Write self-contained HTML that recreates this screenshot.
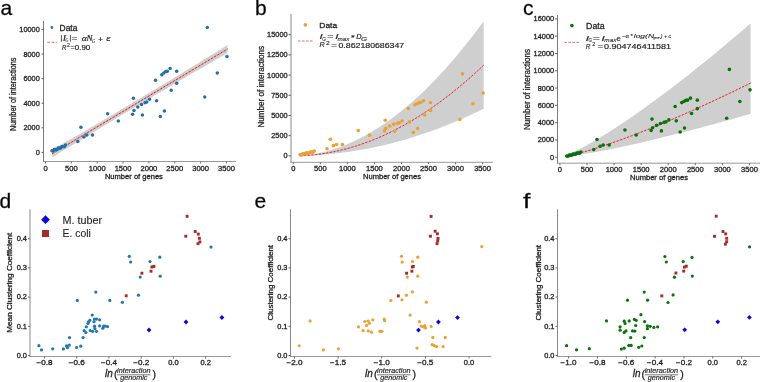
<!DOCTYPE html>
<html><head><meta charset="utf-8"><style>
html,body{margin:0;padding:0;background:#fff;width:760px;height:382px;overflow:hidden}
svg{display:block;font-family:"Liberation Sans", sans-serif}
#w{will-change:transform}
text{stroke:#262626;stroke-width:0.3px}
</style></head><body>
<div id="w"><svg width="760" height="382" viewBox="0 0 760 382">
<rect width="760" height="382" fill="#fff"/>
<text x="0.50" y="15.00" font-size="21" text-anchor="start" fill="#000">a</text>
<text x="255.00" y="15.00" font-size="21" text-anchor="start" fill="#000">b</text>
<text x="523.00" y="15.00" font-size="21" text-anchor="start" fill="#000">c</text>
<text x="-0.50" y="208.00" font-size="21" text-anchor="start" fill="#000">d</text>
<text x="254.50" y="208.00" font-size="21" text-anchor="start" fill="#000">e</text>
<text x="523.00" y="208.00" font-size="21" text-anchor="start" fill="#000" textLength="7.4" lengthAdjust="spacingAndGlyphs">f</text>
<polygon points="52.22,149.97 56.60,147.44 60.99,144.91 65.37,142.37 69.75,139.83 74.13,137.28 78.52,134.73 82.90,132.17 87.28,129.61 91.66,127.04 96.05,124.47 100.43,121.89 104.81,119.31 109.19,116.72 113.58,114.13 117.96,111.53 122.34,108.93 126.72,106.32 131.11,103.71 135.49,101.10 139.87,98.47 144.25,95.85 148.64,93.22 153.02,90.58 157.40,87.94 161.78,85.29 166.17,82.64 170.55,79.99 174.93,77.33 179.31,74.66 183.69,71.99 188.08,69.32 192.46,66.64 196.84,63.95 201.22,61.26 205.61,58.57 209.99,55.87 214.37,53.16 218.75,50.45 223.14,47.74 227.52,45.02 227.52,53.06 223.14,55.58 218.75,58.09 214.37,60.62 209.99,63.15 205.61,65.68 201.22,68.22 196.84,70.76 192.46,73.31 188.08,75.86 183.69,78.42 179.31,80.98 174.93,83.55 170.55,86.12 166.17,88.70 161.78,91.28 157.40,93.87 153.02,96.46 148.64,99.06 144.25,101.66 139.87,104.27 135.49,106.88 131.11,109.49 126.72,112.12 122.34,114.74 117.96,117.37 113.58,120.01 109.19,122.65 104.81,125.30 100.43,127.95 96.05,130.60 91.66,133.26 87.28,135.93 82.90,138.60 78.52,141.28 74.13,143.96 69.75,146.64 65.37,149.33 60.99,152.03 56.60,154.73 52.22,157.43" fill="#cfcfcf"/>
<line x1="52.22" y1="153.70" x2="227.52" y2="49.04" stroke="#e8a0a0" stroke-width="1.2"/>
<line x1="52.22" y1="153.70" x2="227.52" y2="49.04" stroke="#c82222" stroke-width="0.9" stroke-dasharray="2.1,1.6"/>
<circle cx="52.00" cy="150.80" r="1.75" fill="#1f70ae"/>
<circle cx="53.23" cy="150.93" r="1.75" fill="#1f70ae"/>
<circle cx="54.45" cy="149.35" r="1.75" fill="#1f70ae"/>
<circle cx="55.68" cy="149.38" r="1.75" fill="#1f70ae"/>
<circle cx="56.91" cy="149.51" r="1.75" fill="#1f70ae"/>
<circle cx="58.14" cy="147.94" r="1.75" fill="#1f70ae"/>
<circle cx="59.36" cy="147.96" r="1.75" fill="#1f70ae"/>
<circle cx="60.59" cy="148.09" r="1.75" fill="#1f70ae"/>
<circle cx="61.82" cy="146.52" r="1.75" fill="#1f70ae"/>
<circle cx="63.05" cy="146.55" r="1.75" fill="#1f70ae"/>
<circle cx="64.27" cy="146.67" r="1.75" fill="#1f70ae"/>
<circle cx="65.50" cy="145.10" r="1.75" fill="#1f70ae"/>
<circle cx="77.80" cy="141.60" r="1.75" fill="#1f70ae"/>
<circle cx="83.90" cy="136.90" r="1.75" fill="#1f70ae"/>
<circle cx="86.80" cy="135.10" r="1.75" fill="#1f70ae"/>
<circle cx="92.50" cy="135.10" r="1.75" fill="#1f70ae"/>
<circle cx="80.90" cy="127.20" r="1.75" fill="#1f70ae"/>
<circle cx="107.60" cy="113.70" r="1.75" fill="#1f70ae"/>
<circle cx="118.30" cy="120.90" r="1.75" fill="#1f70ae"/>
<circle cx="133.40" cy="98.20" r="1.75" fill="#1f70ae"/>
<circle cx="134.00" cy="110.60" r="1.75" fill="#1f70ae"/>
<circle cx="132.60" cy="114.30" r="1.75" fill="#1f70ae"/>
<circle cx="137.80" cy="107.10" r="1.75" fill="#1f70ae"/>
<circle cx="141.50" cy="104.50" r="1.75" fill="#1f70ae"/>
<circle cx="142.40" cy="115.00" r="1.75" fill="#1f70ae"/>
<circle cx="145.00" cy="102.80" r="1.75" fill="#1f70ae"/>
<circle cx="146.80" cy="102.10" r="1.75" fill="#1f70ae"/>
<circle cx="149.50" cy="99.30" r="1.75" fill="#1f70ae"/>
<circle cx="156.60" cy="100.70" r="1.75" fill="#1f70ae"/>
<circle cx="164.40" cy="110.90" r="1.75" fill="#1f70ae"/>
<circle cx="160.30" cy="116.60" r="1.75" fill="#1f70ae"/>
<circle cx="171.20" cy="90.20" r="1.75" fill="#1f70ae"/>
<circle cx="155.50" cy="80.20" r="1.75" fill="#1f70ae"/>
<circle cx="161.80" cy="74.70" r="1.75" fill="#1f70ae"/>
<circle cx="163.80" cy="73.10" r="1.75" fill="#1f70ae"/>
<circle cx="165.70" cy="71.50" r="1.75" fill="#1f70ae"/>
<circle cx="167.30" cy="71.20" r="1.75" fill="#1f70ae"/>
<circle cx="170.10" cy="68.40" r="1.75" fill="#1f70ae"/>
<circle cx="176.70" cy="71.20" r="1.75" fill="#1f70ae"/>
<circle cx="176.70" cy="83.30" r="1.75" fill="#1f70ae"/>
<circle cx="204.70" cy="97.00" r="1.75" fill="#1f70ae"/>
<circle cx="217.30" cy="73.10" r="1.75" fill="#1f70ae"/>
<circle cx="227.00" cy="56.60" r="1.75" fill="#1f70ae"/>
<circle cx="207.30" cy="27.50" r="1.75" fill="#1f70ae"/>
<line x1="43.50" y1="21.00" x2="43.50" y2="161.50" stroke="#7a7a7a" stroke-width="1"/>
<line x1="43.00" y1="161.50" x2="236.00" y2="161.50" stroke="#999" stroke-width="1"/>
<line x1="41.50" y1="152.40" x2="43.50" y2="152.40" stroke="#666" stroke-width="1"/>
<text x="39.80" y="154.90" font-size="7" text-anchor="end" fill="#262626" textLength="4.1" lengthAdjust="spacingAndGlyphs">0</text>
<line x1="41.50" y1="127.80" x2="43.50" y2="127.80" stroke="#666" stroke-width="1"/>
<text x="39.80" y="130.30" font-size="7" text-anchor="end" fill="#262626" textLength="16.4" lengthAdjust="spacingAndGlyphs">2000</text>
<line x1="41.50" y1="103.20" x2="43.50" y2="103.20" stroke="#666" stroke-width="1"/>
<text x="39.80" y="105.70" font-size="7" text-anchor="end" fill="#262626" textLength="16.4" lengthAdjust="spacingAndGlyphs">4000</text>
<line x1="41.50" y1="78.60" x2="43.50" y2="78.60" stroke="#666" stroke-width="1"/>
<text x="39.80" y="81.10" font-size="7" text-anchor="end" fill="#262626" textLength="16.4" lengthAdjust="spacingAndGlyphs">6000</text>
<line x1="41.50" y1="54.00" x2="43.50" y2="54.00" stroke="#666" stroke-width="1"/>
<text x="39.80" y="56.50" font-size="7" text-anchor="end" fill="#262626" textLength="16.4" lengthAdjust="spacingAndGlyphs">8000</text>
<line x1="41.50" y1="29.40" x2="43.50" y2="29.40" stroke="#666" stroke-width="1"/>
<text x="39.80" y="31.90" font-size="7" text-anchor="end" fill="#262626" textLength="20.5" lengthAdjust="spacingAndGlyphs">10000</text>
<line x1="45.50" y1="161.50" x2="45.50" y2="163.50" stroke="#666" stroke-width="1"/>
<text x="45.50" y="170.80" font-size="7" text-anchor="middle" fill="#262626" textLength="4.2" lengthAdjust="spacingAndGlyphs">0</text>
<line x1="71.36" y1="161.50" x2="71.36" y2="163.50" stroke="#666" stroke-width="1"/>
<text x="71.36" y="170.80" font-size="7" text-anchor="middle" fill="#262626" textLength="12.600000000000001" lengthAdjust="spacingAndGlyphs">500</text>
<line x1="97.21" y1="161.50" x2="97.21" y2="163.50" stroke="#666" stroke-width="1"/>
<text x="97.21" y="170.80" font-size="7" text-anchor="middle" fill="#262626" textLength="16.8" lengthAdjust="spacingAndGlyphs">1000</text>
<line x1="123.06" y1="161.50" x2="123.06" y2="163.50" stroke="#666" stroke-width="1"/>
<text x="123.06" y="170.80" font-size="7" text-anchor="middle" fill="#262626" textLength="16.8" lengthAdjust="spacingAndGlyphs">1500</text>
<line x1="148.92" y1="161.50" x2="148.92" y2="163.50" stroke="#666" stroke-width="1"/>
<text x="148.92" y="170.80" font-size="7" text-anchor="middle" fill="#262626" textLength="16.8" lengthAdjust="spacingAndGlyphs">2000</text>
<line x1="174.78" y1="161.50" x2="174.78" y2="163.50" stroke="#666" stroke-width="1"/>
<text x="174.78" y="170.80" font-size="7" text-anchor="middle" fill="#262626" textLength="16.8" lengthAdjust="spacingAndGlyphs">2500</text>
<line x1="200.63" y1="161.50" x2="200.63" y2="163.50" stroke="#666" stroke-width="1"/>
<text x="200.63" y="170.80" font-size="7" text-anchor="middle" fill="#262626" textLength="16.8" lengthAdjust="spacingAndGlyphs">3000</text>
<line x1="226.48" y1="161.50" x2="226.48" y2="163.50" stroke="#666" stroke-width="1"/>
<text x="226.48" y="170.80" font-size="7" text-anchor="middle" fill="#262626" textLength="16.8" lengthAdjust="spacingAndGlyphs">3500</text>
<text x="133.90" y="178.90" font-size="7.3" text-anchor="middle" fill="#262626" textLength="58" lengthAdjust="spacingAndGlyphs">Number of genes</text>
<text transform="translate(15.7,94.3) rotate(-90)" font-size="8.4" text-anchor="middle" fill="#262626" textLength="73.5" lengthAdjust="spacingAndGlyphs">Number of interactions</text>
<circle cx="51.90" cy="27.50" r="1.4" fill="#1f77b4"/>
<text x="59.60" y="30.60" font-size="8.4" text-anchor="start" fill="#262626" textLength="17.8" lengthAdjust="spacingAndGlyphs">Data</text>
<line x1="47.20" y1="42.30" x2="57.20" y2="42.30" stroke="#e04848" stroke-width="0.8" stroke-dasharray="2.8,1.5"/>
<line x1="61.40" y1="35.10" x2="61.40" y2="41.80" stroke="#262626" stroke-width="0.8"/>
<text x="62.70" y="41.10" font-size="8.4" fill="#262626" textLength="3.30" lengthAdjust="spacingAndGlyphs" font-style="italic" font-family="Liberation Serif, serif" style="stroke-width:0.2px">I</text>
<text x="65.60" y="42.00" font-size="5.4" fill="#262626" textLength="2.80" lengthAdjust="spacingAndGlyphs" font-style="italic" font-family="Liberation Serif, serif" style="stroke-width:0.1px">G</text>
<line x1="70.40" y1="35.10" x2="70.40" y2="41.80" stroke="#262626" stroke-width="0.8"/>
<text x="71.60" y="41.00" font-size="8" fill="#262626" textLength="5.90" lengthAdjust="spacingAndGlyphs" style="stroke-width:0.2px">=</text>
<text x="81.80" y="41.00" font-size="8.6" fill="#262626" textLength="5.10" lengthAdjust="spacingAndGlyphs" font-style="italic" font-family="Liberation Serif, serif" style="stroke-width:0.2px">α</text>
<text x="86.60" y="41.00" font-size="8.4" fill="#262626" textLength="6.00" lengthAdjust="spacingAndGlyphs" font-style="italic" font-family="Liberation Serif, serif" style="stroke-width:0.2px">N</text>
<text x="91.90" y="42.80" font-size="5.4" fill="#262626" textLength="3.10" lengthAdjust="spacingAndGlyphs" font-style="italic" font-family="Liberation Serif, serif" style="stroke-width:0.1px">G</text>
<text x="97.90" y="41.60" font-size="8" fill="#262626" textLength="5.00" lengthAdjust="spacingAndGlyphs" style="stroke-width:0.2px">+</text>
<text x="106.30" y="41.00" font-size="8.6" fill="#262626" textLength="4.00" lengthAdjust="spacingAndGlyphs" font-style="italic" font-family="Liberation Serif, serif" style="stroke-width:0.2px">ε</text>
<text x="62.10" y="49.50" font-size="7.2" fill="#262626" textLength="4.40" lengthAdjust="spacingAndGlyphs" font-style="italic" style="stroke-width:0.2px">R</text>
<text x="67.00" y="46.60" font-size="5.0" fill="#262626" textLength="2.90" lengthAdjust="spacingAndGlyphs" style="stroke-width:0.1px">2</text>
<text x="70.40" y="49.60" font-size="7.2" fill="#262626" textLength="4.30" lengthAdjust="spacingAndGlyphs" style="stroke-width:0.2px">=</text>
<text x="74.80" y="49.70" font-size="7.4" fill="#262626" textLength="15.40" lengthAdjust="spacingAndGlyphs" style="stroke-width:0.2px">0.90</text>
<polygon points="300.33,155.63 303.39,155.40 306.44,155.10 309.50,154.72 312.55,154.27 315.61,153.75 318.66,153.15 321.72,152.49 324.77,151.75 327.83,150.95 330.89,150.07 333.94,149.12 337.00,148.11 340.05,147.02 343.11,145.87 346.16,144.65 349.22,143.36 352.27,142.00 355.33,140.57 358.39,139.08 361.44,137.52 364.50,135.89 367.55,134.19 370.61,132.43 373.66,130.60 376.72,128.71 379.77,126.74 382.83,124.72 385.88,122.62 388.94,120.46 392.00,118.24 395.05,115.94 398.11,113.59 401.16,111.16 404.22,108.67 407.27,106.12 410.33,103.50 413.38,100.82 416.44,98.07 419.50,95.25 422.55,92.38 425.61,89.43 428.66,86.42 431.72,83.35 434.77,80.22 437.83,77.01 440.88,73.75 443.94,70.42 447.00,67.03 450.05,63.57 453.11,60.05 456.16,56.46 459.22,52.81 462.27,49.10 465.33,45.32 468.38,41.48 471.44,37.58 474.50,33.61 477.55,29.58 480.61,25.48 483.66,21.33 483.66,108.67 480.61,110.17 477.55,111.65 474.50,113.10 471.44,114.53 468.38,115.94 465.33,117.32 462.27,118.67 459.22,120.01 456.16,121.32 453.11,122.60 450.05,123.86 447.00,125.09 443.94,126.30 440.88,127.49 437.83,128.65 434.77,129.79 431.72,130.90 428.66,131.99 425.61,133.06 422.55,134.10 419.50,135.11 416.44,136.11 413.38,137.07 410.33,138.02 407.27,138.94 404.22,139.83 401.16,140.70 398.11,141.55 395.05,142.37 392.00,143.17 388.94,143.94 385.88,144.69 382.83,145.41 379.77,146.11 376.72,146.79 373.66,147.44 370.61,148.07 367.55,148.67 364.50,149.25 361.44,149.80 358.39,150.33 355.33,150.84 352.27,151.32 349.22,151.78 346.16,152.21 343.11,152.62 340.05,153.00 337.00,153.36 333.94,153.70 330.89,154.01 327.83,154.30 324.77,154.56 321.72,154.80 318.66,155.01 315.61,155.20 312.55,155.37 309.50,155.51 306.44,155.63 303.39,155.72 300.33,155.79" fill="#cfcfcf"/>
<path d="M300.33,155.73 L303.39,155.60 L306.44,155.42 L309.50,155.19 L312.55,154.92 L315.61,154.60 L318.66,154.24 L321.72,153.83 L324.77,153.37 L327.83,152.86 L330.89,152.31 L333.94,151.71 L337.00,151.07 L340.05,150.38 L343.11,149.64 L346.16,148.85 L349.22,148.02 L352.27,147.14 L355.33,146.22 L358.39,145.24 L361.44,144.22 L364.50,143.16 L367.55,142.05 L370.61,140.89 L373.66,139.68 L376.72,138.43 L379.77,137.13 L382.83,135.78 L385.88,134.39 L388.94,132.95 L392.00,131.46 L395.05,129.93 L398.11,128.35 L401.16,126.72 L404.22,125.05 L407.27,123.32 L410.33,121.56 L413.38,119.74 L416.44,117.88 L419.50,115.97 L422.55,114.02 L425.61,112.02 L428.66,109.97 L431.72,107.88 L434.77,105.74 L437.83,103.55 L440.88,101.31 L443.94,99.03 L447.00,96.70 L450.05,94.33 L453.11,91.91 L456.16,89.44 L459.22,86.92 L462.27,84.36 L465.33,81.75 L468.38,79.09 L471.44,76.39 L474.50,73.64 L477.55,70.85 L480.61,68.00 L483.66,65.12" fill="none" stroke="#eaa8a8" stroke-width="1.0"/>
<path d="M300.33,155.73 L303.39,155.60 L306.44,155.42 L309.50,155.19 L312.55,154.92 L315.61,154.60 L318.66,154.24 L321.72,153.83 L324.77,153.37 L327.83,152.86 L330.89,152.31 L333.94,151.71 L337.00,151.07 L340.05,150.38 L343.11,149.64 L346.16,148.85 L349.22,148.02 L352.27,147.14 L355.33,146.22 L358.39,145.24 L361.44,144.22 L364.50,143.16 L367.55,142.05 L370.61,140.89 L373.66,139.68 L376.72,138.43 L379.77,137.13 L382.83,135.78 L385.88,134.39 L388.94,132.95 L392.00,131.46 L395.05,129.93 L398.11,128.35 L401.16,126.72 L404.22,125.05 L407.27,123.32 L410.33,121.56 L413.38,119.74 L416.44,117.88 L419.50,115.97 L422.55,114.02 L425.61,112.02 L428.66,109.97 L431.72,107.88 L434.77,105.74 L437.83,103.55 L440.88,101.31 L443.94,99.03 L447.00,96.70 L450.05,94.33 L453.11,91.91 L456.16,89.44 L459.22,86.92 L462.27,84.36 L465.33,81.75 L468.38,79.09 L471.44,76.39 L474.50,73.64 L477.55,70.85 L480.61,68.00 L483.66,65.12" fill="none" stroke="#c82222" stroke-width="0.9" stroke-dasharray="2.1,1.6"/>
<circle cx="300.10" cy="154.80" r="1.8" fill="#eca032"/>
<circle cx="301.38" cy="154.88" r="1.8" fill="#eca032"/>
<circle cx="302.66" cy="153.85" r="1.8" fill="#eca032"/>
<circle cx="303.95" cy="153.87" r="1.8" fill="#eca032"/>
<circle cx="305.23" cy="153.95" r="1.8" fill="#eca032"/>
<circle cx="306.52" cy="152.92" r="1.8" fill="#eca032"/>
<circle cx="307.80" cy="152.94" r="1.8" fill="#eca032"/>
<circle cx="309.08" cy="153.02" r="1.8" fill="#eca032"/>
<circle cx="310.37" cy="151.99" r="1.8" fill="#eca032"/>
<circle cx="311.65" cy="152.01" r="1.8" fill="#eca032"/>
<circle cx="312.93" cy="152.09" r="1.8" fill="#eca032"/>
<circle cx="314.22" cy="151.06" r="1.8" fill="#eca032"/>
<circle cx="327.08" cy="148.76" r="1.8" fill="#eca032"/>
<circle cx="333.46" cy="145.67" r="1.8" fill="#eca032"/>
<circle cx="336.49" cy="144.49" r="1.8" fill="#eca032"/>
<circle cx="342.45" cy="144.49" r="1.8" fill="#eca032"/>
<circle cx="330.32" cy="139.30" r="1.8" fill="#eca032"/>
<circle cx="358.25" cy="130.44" r="1.8" fill="#eca032"/>
<circle cx="369.44" cy="135.16" r="1.8" fill="#eca032"/>
<circle cx="385.23" cy="120.26" r="1.8" fill="#eca032"/>
<circle cx="385.86" cy="128.40" r="1.8" fill="#eca032"/>
<circle cx="384.39" cy="130.83" r="1.8" fill="#eca032"/>
<circle cx="389.83" cy="126.10" r="1.8" fill="#eca032"/>
<circle cx="393.70" cy="124.40" r="1.8" fill="#eca032"/>
<circle cx="394.64" cy="131.29" r="1.8" fill="#eca032"/>
<circle cx="397.36" cy="123.28" r="1.8" fill="#eca032"/>
<circle cx="399.24" cy="122.82" r="1.8" fill="#eca032"/>
<circle cx="402.07" cy="120.98" r="1.8" fill="#eca032"/>
<circle cx="409.49" cy="121.90" r="1.8" fill="#eca032"/>
<circle cx="417.65" cy="128.60" r="1.8" fill="#eca032"/>
<circle cx="413.36" cy="132.34" r="1.8" fill="#eca032"/>
<circle cx="424.76" cy="115.01" r="1.8" fill="#eca032"/>
<circle cx="408.34" cy="108.44" r="1.8" fill="#eca032"/>
<circle cx="414.93" cy="104.83" r="1.8" fill="#eca032"/>
<circle cx="417.02" cy="103.78" r="1.8" fill="#eca032"/>
<circle cx="419.01" cy="102.73" r="1.8" fill="#eca032"/>
<circle cx="420.68" cy="102.53" r="1.8" fill="#eca032"/>
<circle cx="423.61" cy="100.69" r="1.8" fill="#eca032"/>
<circle cx="430.51" cy="102.53" r="1.8" fill="#eca032"/>
<circle cx="430.51" cy="110.47" r="1.8" fill="#eca032"/>
<circle cx="459.80" cy="119.47" r="1.8" fill="#eca032"/>
<circle cx="472.97" cy="103.78" r="1.8" fill="#eca032"/>
<circle cx="483.12" cy="92.94" r="1.8" fill="#eca032"/>
<circle cx="462.52" cy="73.83" r="1.8" fill="#eca032"/>
<line x1="291.00" y1="14.00" x2="291.00" y2="162.50" stroke="#aaa" stroke-width="1.4"/>
<line x1="290.50" y1="162.30" x2="493.00" y2="162.30" stroke="#999" stroke-width="1"/>
<line x1="288.50" y1="155.85" x2="291.00" y2="155.85" stroke="#666" stroke-width="1"/>
<text x="287.60" y="158.35" font-size="7" text-anchor="end" fill="#262626" textLength="4.1" lengthAdjust="spacingAndGlyphs">0</text>
<line x1="288.50" y1="135.66" x2="291.00" y2="135.66" stroke="#666" stroke-width="1"/>
<text x="287.60" y="138.16" font-size="7" text-anchor="end" fill="#262626" textLength="16.4" lengthAdjust="spacingAndGlyphs">2500</text>
<line x1="288.50" y1="115.46" x2="291.00" y2="115.46" stroke="#666" stroke-width="1"/>
<text x="287.60" y="117.96" font-size="7" text-anchor="end" fill="#262626" textLength="16.4" lengthAdjust="spacingAndGlyphs">5000</text>
<line x1="288.50" y1="95.27" x2="291.00" y2="95.27" stroke="#666" stroke-width="1"/>
<text x="287.60" y="97.77" font-size="7" text-anchor="end" fill="#262626" textLength="16.4" lengthAdjust="spacingAndGlyphs">7500</text>
<line x1="288.50" y1="75.08" x2="291.00" y2="75.08" stroke="#666" stroke-width="1"/>
<text x="287.60" y="77.58" font-size="7" text-anchor="end" fill="#262626" textLength="20.5" lengthAdjust="spacingAndGlyphs">10000</text>
<line x1="288.50" y1="54.89" x2="291.00" y2="54.89" stroke="#666" stroke-width="1"/>
<text x="287.60" y="57.39" font-size="7" text-anchor="end" fill="#262626" textLength="20.5" lengthAdjust="spacingAndGlyphs">12500</text>
<line x1="288.50" y1="34.69" x2="291.00" y2="34.69" stroke="#666" stroke-width="1"/>
<text x="287.60" y="37.19" font-size="7" text-anchor="end" fill="#262626" textLength="20.5" lengthAdjust="spacingAndGlyphs">15000</text>
<line x1="293.30" y1="162.30" x2="293.30" y2="164.30" stroke="#666" stroke-width="1"/>
<text x="293.30" y="170.60" font-size="7" text-anchor="middle" fill="#262626" textLength="4.2" lengthAdjust="spacingAndGlyphs">0</text>
<line x1="320.34" y1="162.30" x2="320.34" y2="164.30" stroke="#666" stroke-width="1"/>
<text x="320.34" y="170.60" font-size="7" text-anchor="middle" fill="#262626" textLength="12.600000000000001" lengthAdjust="spacingAndGlyphs">500</text>
<line x1="347.38" y1="162.30" x2="347.38" y2="164.30" stroke="#666" stroke-width="1"/>
<text x="347.38" y="170.60" font-size="7" text-anchor="middle" fill="#262626" textLength="16.8" lengthAdjust="spacingAndGlyphs">1000</text>
<line x1="374.42" y1="162.30" x2="374.42" y2="164.30" stroke="#666" stroke-width="1"/>
<text x="374.42" y="170.60" font-size="7" text-anchor="middle" fill="#262626" textLength="16.8" lengthAdjust="spacingAndGlyphs">1500</text>
<line x1="401.46" y1="162.30" x2="401.46" y2="164.30" stroke="#666" stroke-width="1"/>
<text x="401.46" y="170.60" font-size="7" text-anchor="middle" fill="#262626" textLength="16.8" lengthAdjust="spacingAndGlyphs">2000</text>
<line x1="428.50" y1="162.30" x2="428.50" y2="164.30" stroke="#666" stroke-width="1"/>
<text x="428.50" y="170.60" font-size="7" text-anchor="middle" fill="#262626" textLength="16.8" lengthAdjust="spacingAndGlyphs">2500</text>
<line x1="455.54" y1="162.30" x2="455.54" y2="164.30" stroke="#666" stroke-width="1"/>
<text x="455.54" y="170.60" font-size="7" text-anchor="middle" fill="#262626" textLength="16.8" lengthAdjust="spacingAndGlyphs">3000</text>
<line x1="482.58" y1="162.30" x2="482.58" y2="164.30" stroke="#666" stroke-width="1"/>
<text x="482.58" y="170.60" font-size="7" text-anchor="middle" fill="#262626" textLength="16.8" lengthAdjust="spacingAndGlyphs">3500</text>
<text x="392.00" y="179.10" font-size="7.3" text-anchor="middle" fill="#262626" textLength="58" lengthAdjust="spacingAndGlyphs">Number of genes</text>
<text transform="translate(263.6,86.8) rotate(-90)" font-size="8.4" text-anchor="middle" fill="#262626" textLength="81.5" lengthAdjust="spacingAndGlyphs">Number of interactions</text>
<circle cx="305.30" cy="24.90" r="1.8" fill="#eca032"/>
<text x="319.30" y="27.70" font-size="8" text-anchor="start" fill="#262626" textLength="17.9" lengthAdjust="spacingAndGlyphs">Data</text>
<line x1="297.90" y1="41.00" x2="313.70" y2="41.00" stroke="#e04848" stroke-width="0.8" stroke-dasharray="2.6,1.4"/>
<text x="319.40" y="39.30" font-size="7.6" fill="#262626" textLength="3.20" lengthAdjust="spacingAndGlyphs" font-style="italic" style="stroke-width:0.2px">I</text>
<text x="322.20" y="40.60" font-size="5.2" fill="#262626" textLength="3.60" lengthAdjust="spacingAndGlyphs" font-style="italic" style="stroke-width:0.1px">G</text>
<text x="327.30" y="39.40" font-size="7.6" fill="#262626" textLength="6.30" lengthAdjust="spacingAndGlyphs" style="stroke-width:0.2px">=</text>
<text x="335.20" y="39.30" font-size="7.6" fill="#262626" textLength="3.20" lengthAdjust="spacingAndGlyphs" font-style="italic" style="stroke-width:0.2px">I</text>
<text x="337.40" y="40.60" font-size="5.2" fill="#262626" textLength="12.00" lengthAdjust="spacingAndGlyphs" font-style="italic" style="stroke-width:0.1px">max</text>
<text x="351.00" y="39.60" font-size="7.6" fill="#262626" textLength="3.70" lengthAdjust="spacingAndGlyphs" style="stroke-width:0.2px">*</text>
<text x="356.20" y="39.30" font-size="7.6" fill="#262626" textLength="5.30" lengthAdjust="spacingAndGlyphs" font-style="italic" style="stroke-width:0.2px">D</text>
<text x="361.10" y="40.60" font-size="5.2" fill="#262626" textLength="6.10" lengthAdjust="spacingAndGlyphs" font-style="italic" style="stroke-width:0.1px">G</text>
<text x="319.40" y="47.30" font-size="7.6" fill="#262626" textLength="5.20" lengthAdjust="spacingAndGlyphs" font-style="italic" style="stroke-width:0.2px">R</text>
<text x="326.00" y="44.60" font-size="5.2" fill="#262626" textLength="3.70" lengthAdjust="spacingAndGlyphs" style="stroke-width:0.1px">2</text>
<text x="331.20" y="47.50" font-size="7.6" fill="#262626" textLength="5.70" lengthAdjust="spacingAndGlyphs" style="stroke-width:0.2px">=</text>
<text x="338.50" y="47.60" font-size="8" fill="#262626" textLength="65.70" lengthAdjust="spacingAndGlyphs" style="stroke-width:0.2px">0.862180686347</text>
<polygon points="566.94,154.89 570.00,153.59 573.06,152.21 576.12,150.74 579.18,149.21 582.25,147.63 585.31,145.99 588.37,144.31 591.43,142.58 594.49,140.82 597.55,139.02 600.61,137.18 603.67,135.32 606.73,133.42 609.79,131.49 612.85,129.54 615.91,127.56 618.97,125.56 622.03,123.53 625.09,121.48 628.15,119.40 631.21,117.31 634.28,115.19 637.34,113.05 640.40,110.90 643.46,108.72 646.52,106.53 649.58,104.32 652.64,102.09 655.70,99.85 658.76,97.58 661.82,95.31 664.88,93.01 667.94,90.70 671.00,88.38 674.06,86.04 677.12,83.68 680.18,81.32 683.25,78.94 686.31,76.54 689.37,74.13 692.43,71.71 695.49,69.27 698.55,66.83 701.61,64.37 704.67,61.89 707.73,59.41 710.79,56.91 713.85,54.41 716.91,51.89 719.97,49.36 723.03,46.81 726.09,44.26 729.15,41.70 732.21,39.12 735.28,36.54 738.34,33.94 741.40,31.34 744.46,28.72 747.52,26.10 750.58,23.46 750.58,113.82 747.52,114.70 744.46,115.58 741.40,116.45 738.34,117.33 735.28,118.19 732.21,119.05 729.15,119.91 726.09,120.77 723.03,121.62 719.97,122.46 716.91,123.30 713.85,124.14 710.79,124.97 707.73,125.80 704.67,126.62 701.61,127.44 698.55,128.26 695.49,129.07 692.43,129.87 689.37,130.67 686.31,131.46 683.25,132.25 680.18,133.04 677.12,133.81 674.06,134.59 671.00,135.35 667.94,136.11 664.88,136.87 661.82,137.62 658.76,138.36 655.70,139.10 652.64,139.83 649.58,140.56 646.52,141.28 643.46,141.99 640.40,142.69 637.34,143.39 634.28,144.08 631.21,144.76 628.15,145.43 625.09,146.10 622.03,146.76 618.97,147.41 615.91,148.05 612.85,148.68 609.79,149.30 606.73,149.91 603.67,150.51 600.61,151.10 597.55,151.67 594.49,152.24 591.43,152.79 588.37,153.32 585.31,153.85 582.25,154.35 579.18,154.84 576.12,155.30 573.06,155.74 570.00,156.16 566.94,156.54" fill="#cfcfcf"/>
<path d="M566.94,156.08 L570.00,155.42 L573.06,154.71 L576.12,153.96 L579.18,153.16 L582.25,152.33 L585.31,151.47 L588.37,150.58 L591.43,149.66 L594.49,148.72 L597.55,147.75 L600.61,146.77 L603.67,145.76 L606.73,144.73 L609.79,143.69 L612.85,142.63 L615.91,141.55 L618.97,140.46 L622.03,139.35 L625.09,138.22 L628.15,137.09 L631.21,135.93 L634.28,134.77 L637.34,133.59 L640.40,132.40 L643.46,131.19 L646.52,129.98 L649.58,128.75 L652.64,127.51 L655.70,126.26 L658.76,125.00 L661.82,123.73 L664.88,122.45 L667.94,121.16 L671.00,119.86 L674.06,118.54 L677.12,117.22 L680.18,115.89 L683.25,114.55 L686.31,113.20 L689.37,111.85 L692.43,110.48 L695.49,109.11 L698.55,107.72 L701.61,106.33 L704.67,104.93 L707.73,103.53 L710.79,102.11 L713.85,100.69 L716.91,99.26 L719.97,97.82 L723.03,96.37 L726.09,94.92 L729.15,93.46 L732.21,91.99 L735.28,90.52 L738.34,89.04 L741.40,87.55 L744.46,86.05 L747.52,84.55 L750.58,83.04" fill="none" stroke="#eaa8a8" stroke-width="1.0"/>
<path d="M566.94,156.08 L570.00,155.42 L573.06,154.71 L576.12,153.96 L579.18,153.16 L582.25,152.33 L585.31,151.47 L588.37,150.58 L591.43,149.66 L594.49,148.72 L597.55,147.75 L600.61,146.77 L603.67,145.76 L606.73,144.73 L609.79,143.69 L612.85,142.63 L615.91,141.55 L618.97,140.46 L622.03,139.35 L625.09,138.22 L628.15,137.09 L631.21,135.93 L634.28,134.77 L637.34,133.59 L640.40,132.40 L643.46,131.19 L646.52,129.98 L649.58,128.75 L652.64,127.51 L655.70,126.26 L658.76,125.00 L661.82,123.73 L664.88,122.45 L667.94,121.16 L671.00,119.86 L674.06,118.54 L677.12,117.22 L680.18,115.89 L683.25,114.55 L686.31,113.20 L689.37,111.85 L692.43,110.48 L695.49,109.11 L698.55,107.72 L701.61,106.33 L704.67,104.93 L707.73,103.53 L710.79,102.11 L713.85,100.69 L716.91,99.26 L719.97,97.82 L723.03,96.37 L726.09,94.92 L729.15,93.46 L732.21,91.99 L735.28,90.52 L738.34,89.04 L741.40,87.55 L744.46,86.05 L747.52,84.55 L750.58,83.04" fill="none" stroke="#c82222" stroke-width="0.9" stroke-dasharray="2.1,1.6"/>
<circle cx="566.71" cy="156.08" r="1.8" fill="#0a720a"/>
<circle cx="567.99" cy="156.16" r="1.8" fill="#0a720a"/>
<circle cx="569.28" cy="155.06" r="1.8" fill="#0a720a"/>
<circle cx="570.57" cy="155.08" r="1.8" fill="#0a720a"/>
<circle cx="571.85" cy="155.17" r="1.8" fill="#0a720a"/>
<circle cx="573.14" cy="154.06" r="1.8" fill="#0a720a"/>
<circle cx="574.42" cy="154.08" r="1.8" fill="#0a720a"/>
<circle cx="575.71" cy="154.17" r="1.8" fill="#0a720a"/>
<circle cx="576.99" cy="153.07" r="1.8" fill="#0a720a"/>
<circle cx="578.28" cy="153.09" r="1.8" fill="#0a720a"/>
<circle cx="579.57" cy="153.17" r="1.8" fill="#0a720a"/>
<circle cx="580.85" cy="152.07" r="1.8" fill="#0a720a"/>
<circle cx="593.74" cy="149.61" r="1.8" fill="#0a720a"/>
<circle cx="600.13" cy="146.31" r="1.8" fill="#0a720a"/>
<circle cx="603.16" cy="145.04" r="1.8" fill="#0a720a"/>
<circle cx="609.14" cy="145.04" r="1.8" fill="#0a720a"/>
<circle cx="596.98" cy="139.49" r="1.8" fill="#0a720a"/>
<circle cx="624.95" cy="130.00" r="1.8" fill="#0a720a"/>
<circle cx="636.16" cy="135.06" r="1.8" fill="#0a720a"/>
<circle cx="651.98" cy="119.11" r="1.8" fill="#0a720a"/>
<circle cx="652.61" cy="127.82" r="1.8" fill="#0a720a"/>
<circle cx="651.14" cy="130.42" r="1.8" fill="#0a720a"/>
<circle cx="656.59" cy="125.36" r="1.8" fill="#0a720a"/>
<circle cx="660.47" cy="123.53" r="1.8" fill="#0a720a"/>
<circle cx="661.41" cy="130.91" r="1.8" fill="#0a720a"/>
<circle cx="664.13" cy="122.34" r="1.8" fill="#0a720a"/>
<circle cx="666.02" cy="121.85" r="1.8" fill="#0a720a"/>
<circle cx="668.85" cy="119.88" r="1.8" fill="#0a720a"/>
<circle cx="676.29" cy="120.86" r="1.8" fill="#0a720a"/>
<circle cx="684.46" cy="128.03" r="1.8" fill="#0a720a"/>
<circle cx="680.16" cy="132.04" r="1.8" fill="#0a720a"/>
<circle cx="691.58" cy="113.48" r="1.8" fill="#0a720a"/>
<circle cx="675.13" cy="106.45" r="1.8" fill="#0a720a"/>
<circle cx="681.73" cy="102.59" r="1.8" fill="#0a720a"/>
<circle cx="683.83" cy="101.46" r="1.8" fill="#0a720a"/>
<circle cx="685.82" cy="100.34" r="1.8" fill="#0a720a"/>
<circle cx="687.49" cy="100.13" r="1.8" fill="#0a720a"/>
<circle cx="690.43" cy="98.16" r="1.8" fill="#0a720a"/>
<circle cx="697.34" cy="100.13" r="1.8" fill="#0a720a"/>
<circle cx="697.34" cy="108.63" r="1.8" fill="#0a720a"/>
<circle cx="726.67" cy="118.26" r="1.8" fill="#0a720a"/>
<circle cx="739.87" cy="101.46" r="1.8" fill="#0a720a"/>
<circle cx="750.03" cy="89.87" r="1.8" fill="#0a720a"/>
<circle cx="729.40" cy="69.41" r="1.8" fill="#0a720a"/>
<line x1="557.50" y1="15.00" x2="557.50" y2="163.50" stroke="#7a7a7a" stroke-width="1"/>
<line x1="557.00" y1="163.20" x2="760.00" y2="163.20" stroke="#999" stroke-width="1"/>
<line x1="555.00" y1="157.20" x2="557.40" y2="157.20" stroke="#666" stroke-width="1"/>
<text x="554.10" y="159.70" font-size="7" text-anchor="end" fill="#262626" textLength="4.1" lengthAdjust="spacingAndGlyphs">0</text>
<line x1="555.00" y1="139.91" x2="557.40" y2="139.91" stroke="#666" stroke-width="1"/>
<text x="554.10" y="142.41" font-size="7" text-anchor="end" fill="#262626" textLength="16.4" lengthAdjust="spacingAndGlyphs">2000</text>
<line x1="555.00" y1="122.62" x2="557.40" y2="122.62" stroke="#666" stroke-width="1"/>
<text x="554.10" y="125.12" font-size="7" text-anchor="end" fill="#262626" textLength="16.4" lengthAdjust="spacingAndGlyphs">4000</text>
<line x1="555.00" y1="105.33" x2="557.40" y2="105.33" stroke="#666" stroke-width="1"/>
<text x="554.10" y="107.83" font-size="7" text-anchor="end" fill="#262626" textLength="16.4" lengthAdjust="spacingAndGlyphs">6000</text>
<line x1="555.00" y1="88.04" x2="557.40" y2="88.04" stroke="#666" stroke-width="1"/>
<text x="554.10" y="90.54" font-size="7" text-anchor="end" fill="#262626" textLength="16.4" lengthAdjust="spacingAndGlyphs">8000</text>
<line x1="555.00" y1="70.75" x2="557.40" y2="70.75" stroke="#666" stroke-width="1"/>
<text x="554.10" y="73.25" font-size="7" text-anchor="end" fill="#262626" textLength="20.5" lengthAdjust="spacingAndGlyphs">10000</text>
<line x1="555.00" y1="53.46" x2="557.40" y2="53.46" stroke="#666" stroke-width="1"/>
<text x="554.10" y="55.96" font-size="7" text-anchor="end" fill="#262626" textLength="20.5" lengthAdjust="spacingAndGlyphs">12000</text>
<line x1="555.00" y1="36.17" x2="557.40" y2="36.17" stroke="#666" stroke-width="1"/>
<text x="554.10" y="38.67" font-size="7" text-anchor="end" fill="#262626" textLength="20.5" lengthAdjust="spacingAndGlyphs">14000</text>
<line x1="555.00" y1="18.88" x2="557.40" y2="18.88" stroke="#666" stroke-width="1"/>
<text x="554.10" y="21.38" font-size="7" text-anchor="end" fill="#262626" textLength="20.5" lengthAdjust="spacingAndGlyphs">16000</text>
<line x1="559.90" y1="163.20" x2="559.90" y2="165.20" stroke="#666" stroke-width="1"/>
<text x="559.90" y="171.50" font-size="7" text-anchor="middle" fill="#262626" textLength="4.2" lengthAdjust="spacingAndGlyphs">0</text>
<line x1="586.99" y1="163.20" x2="586.99" y2="165.20" stroke="#666" stroke-width="1"/>
<text x="586.99" y="171.50" font-size="7" text-anchor="middle" fill="#262626" textLength="12.600000000000001" lengthAdjust="spacingAndGlyphs">500</text>
<line x1="614.07" y1="163.20" x2="614.07" y2="165.20" stroke="#666" stroke-width="1"/>
<text x="614.07" y="171.50" font-size="7" text-anchor="middle" fill="#262626" textLength="16.8" lengthAdjust="spacingAndGlyphs">1000</text>
<line x1="641.15" y1="163.20" x2="641.15" y2="165.20" stroke="#666" stroke-width="1"/>
<text x="641.15" y="171.50" font-size="7" text-anchor="middle" fill="#262626" textLength="16.8" lengthAdjust="spacingAndGlyphs">1500</text>
<line x1="668.24" y1="163.20" x2="668.24" y2="165.20" stroke="#666" stroke-width="1"/>
<text x="668.24" y="171.50" font-size="7" text-anchor="middle" fill="#262626" textLength="16.8" lengthAdjust="spacingAndGlyphs">2000</text>
<line x1="695.33" y1="163.20" x2="695.33" y2="165.20" stroke="#666" stroke-width="1"/>
<text x="695.33" y="171.50" font-size="7" text-anchor="middle" fill="#262626" textLength="16.8" lengthAdjust="spacingAndGlyphs">2500</text>
<line x1="722.41" y1="163.20" x2="722.41" y2="165.20" stroke="#666" stroke-width="1"/>
<text x="722.41" y="171.50" font-size="7" text-anchor="middle" fill="#262626" textLength="16.8" lengthAdjust="spacingAndGlyphs">3000</text>
<line x1="749.50" y1="163.20" x2="749.50" y2="165.20" stroke="#666" stroke-width="1"/>
<text x="749.50" y="171.50" font-size="7" text-anchor="middle" fill="#262626" textLength="16.8" lengthAdjust="spacingAndGlyphs">3500</text>
<text x="659.00" y="180.10" font-size="7.3" text-anchor="middle" fill="#262626" textLength="58" lengthAdjust="spacingAndGlyphs">Number of genes</text>
<text transform="translate(530,89.5) rotate(-90)" font-size="8.4" text-anchor="middle" fill="#262626" textLength="81" lengthAdjust="spacingAndGlyphs">Number of interactions</text>
<circle cx="571.90" cy="25.60" r="1.8" fill="#0a720a"/>
<text x="586.10" y="28.80" font-size="8.5" text-anchor="start" fill="#262626" textLength="18.4" lengthAdjust="spacingAndGlyphs">Data</text>
<line x1="564.40" y1="42.40" x2="579.80" y2="42.40" stroke="#e04848" stroke-width="0.8" stroke-dasharray="2.6,1.4"/>
<text x="585.70" y="40.60" font-size="7.6" fill="#262626" textLength="3.30" lengthAdjust="spacingAndGlyphs" font-style="italic" style="stroke-width:0.2px">I</text>
<text x="588.40" y="41.90" font-size="5.6" fill="#262626" textLength="3.40" lengthAdjust="spacingAndGlyphs" font-style="italic" style="stroke-width:0.1px">G</text>
<text x="592.80" y="40.60" font-size="7.6" fill="#262626" textLength="7.10" lengthAdjust="spacingAndGlyphs" style="stroke-width:0.2px">=</text>
<text x="601.50" y="40.60" font-size="7.6" fill="#262626" textLength="3.20" lengthAdjust="spacingAndGlyphs" font-style="italic" style="stroke-width:0.2px">I</text>
<text x="604.30" y="41.90" font-size="5.6" fill="#262626" textLength="12.10" lengthAdjust="spacingAndGlyphs" font-style="italic" style="stroke-width:0.1px">max</text>
<text x="616.60" y="40.60" font-size="7.6" fill="#262626" textLength="4.40" lengthAdjust="spacingAndGlyphs" style="stroke-width:0.2px">e</text>
<text x="622.00" y="37.90" font-size="5.6" fill="#262626" textLength="10.80" lengthAdjust="spacingAndGlyphs" style="stroke-width:0.1px">−α *</text>
<text x="633.80" y="37.90" font-size="5.6" fill="#262626" textLength="20.20" lengthAdjust="spacingAndGlyphs" font-style="italic" style="stroke-width:0.1px">log(N</text>
<text x="653.20" y="38.70" font-size="3.6" fill="#262626" textLength="7.30" lengthAdjust="spacingAndGlyphs" font-style="italic" style="stroke-width:0.1px">genes</text>
<text x="660.80" y="37.90" font-size="5.6" fill="#262626" textLength="10.20" lengthAdjust="spacingAndGlyphs" font-style="italic" style="stroke-width:0.1px">) + c</text>
<text x="585.70" y="49.20" font-size="7.6" fill="#262626" textLength="4.60" lengthAdjust="spacingAndGlyphs" font-style="italic" style="stroke-width:0.2px">R</text>
<text x="592.30" y="45.90" font-size="5" fill="#262626" textLength="3.00" lengthAdjust="spacingAndGlyphs" style="stroke-width:0.1px">2</text>
<text x="597.60" y="49.30" font-size="7.6" fill="#262626" textLength="5.60" lengthAdjust="spacingAndGlyphs" style="stroke-width:0.2px">=</text>
<text x="604.10" y="49.40" font-size="8" fill="#262626" textLength="66.90" lengthAdjust="spacingAndGlyphs" style="stroke-width:0.2px">0.904746411581</text>
<line x1="30.00" y1="209.30" x2="30.00" y2="357.00" stroke="#888" stroke-width="1"/>
<line x1="29.50" y1="356.50" x2="231.00" y2="356.50" stroke="#999" stroke-width="1"/>
<line x1="28.00" y1="355.50" x2="30.00" y2="355.50" stroke="#666" stroke-width="1"/>
<text x="27.00" y="357.80" font-size="6.6" text-anchor="end" fill="#262626" textLength="10.3" lengthAdjust="spacingAndGlyphs">0.0</text>
<line x1="28.00" y1="326.30" x2="30.00" y2="326.30" stroke="#666" stroke-width="1"/>
<text x="27.00" y="328.60" font-size="6.6" text-anchor="end" fill="#262626" textLength="10.3" lengthAdjust="spacingAndGlyphs">0.1</text>
<line x1="28.00" y1="297.10" x2="30.00" y2="297.10" stroke="#666" stroke-width="1"/>
<text x="27.00" y="299.40" font-size="6.6" text-anchor="end" fill="#262626" textLength="10.3" lengthAdjust="spacingAndGlyphs">0.2</text>
<line x1="28.00" y1="267.90" x2="30.00" y2="267.90" stroke="#666" stroke-width="1"/>
<text x="27.00" y="270.20" font-size="6.6" text-anchor="end" fill="#262626" textLength="10.3" lengthAdjust="spacingAndGlyphs">0.3</text>
<line x1="28.00" y1="238.70" x2="30.00" y2="238.70" stroke="#666" stroke-width="1"/>
<text x="27.00" y="241.00" font-size="6.6" text-anchor="end" fill="#262626" textLength="10.3" lengthAdjust="spacingAndGlyphs">0.4</text>
<line x1="44.52" y1="356.50" x2="44.52" y2="358.50" stroke="#666" stroke-width="1"/>
<text x="44.52" y="364.90" font-size="6.6" text-anchor="middle" fill="#262626" textLength="16" lengthAdjust="spacingAndGlyphs">−0.8</text>
<line x1="76.74" y1="356.50" x2="76.74" y2="358.50" stroke="#666" stroke-width="1"/>
<text x="76.74" y="364.90" font-size="6.6" text-anchor="middle" fill="#262626" textLength="16" lengthAdjust="spacingAndGlyphs">−0.6</text>
<line x1="108.96" y1="356.50" x2="108.96" y2="358.50" stroke="#666" stroke-width="1"/>
<text x="108.96" y="364.90" font-size="6.6" text-anchor="middle" fill="#262626" textLength="16" lengthAdjust="spacingAndGlyphs">−0.4</text>
<line x1="141.18" y1="356.50" x2="141.18" y2="358.50" stroke="#666" stroke-width="1"/>
<text x="141.18" y="364.90" font-size="6.6" text-anchor="middle" fill="#262626" textLength="16" lengthAdjust="spacingAndGlyphs">−0.2</text>
<line x1="173.40" y1="356.50" x2="173.40" y2="358.50" stroke="#666" stroke-width="1"/>
<text x="173.40" y="364.90" font-size="6.6" text-anchor="middle" fill="#262626" textLength="10.4" lengthAdjust="spacingAndGlyphs">0.0</text>
<line x1="205.62" y1="356.50" x2="205.62" y2="358.50" stroke="#666" stroke-width="1"/>
<text x="205.62" y="364.90" font-size="6.6" text-anchor="middle" fill="#262626" textLength="10.4" lengthAdjust="spacingAndGlyphs">0.2</text>
<text transform="translate(11.9,282.7) rotate(-90)" font-size="6.6" text-anchor="middle" fill="#262626" textLength="100" lengthAdjust="spacingAndGlyphs">Mean Clustering Coefficient</text>
<text x="105.1" y="377.0" font-size="10" fill="#262626" font-style="italic">ln</text>
<text x="113.89999999999999" y="377.6" font-size="10.5" fill="#262626">(</text>
<text x="133.80" y="373.30" font-size="7" text-anchor="middle" fill="#262626" textLength="33.5" lengthAdjust="spacingAndGlyphs" font-style="italic" style="stroke-width:0.18px">interaction</text>
<line x1="117.10" y1="374.80" x2="150.60" y2="374.80" stroke="#555" stroke-width="0.8"/>
<text x="133.80" y="380.00" font-size="7" text-anchor="middle" fill="#262626" textLength="27.3" lengthAdjust="spacingAndGlyphs" font-style="italic" style="stroke-width:0.18px">genomic</text>
<text x="152.6" y="377.6" font-size="10.5" fill="#262626">)</text>
<circle cx="38.90" cy="345.70" r="1.6" fill="#1f77b4"/>
<circle cx="41.50" cy="349.90" r="1.6" fill="#1f77b4"/>
<circle cx="52.70" cy="348.80" r="1.6" fill="#1f77b4"/>
<circle cx="63.40" cy="348.90" r="1.6" fill="#1f77b4"/>
<circle cx="66.50" cy="345.90" r="1.6" fill="#1f77b4"/>
<circle cx="67.50" cy="347.70" r="1.6" fill="#1f77b4"/>
<circle cx="69.30" cy="345.10" r="1.6" fill="#1f77b4"/>
<circle cx="69.50" cy="337.60" r="1.6" fill="#1f77b4"/>
<circle cx="76.60" cy="347.50" r="1.6" fill="#1f77b4"/>
<circle cx="80.70" cy="346.20" r="1.6" fill="#1f77b4"/>
<circle cx="83.10" cy="337.60" r="1.6" fill="#1f77b4"/>
<circle cx="84.20" cy="330.70" r="1.6" fill="#1f77b4"/>
<circle cx="92.20" cy="315.10" r="1.6" fill="#1f77b4"/>
<circle cx="88.50" cy="321.90" r="1.6" fill="#1f77b4"/>
<circle cx="87.90" cy="323.50" r="1.6" fill="#1f77b4"/>
<circle cx="89.80" cy="320.30" r="1.6" fill="#1f77b4"/>
<circle cx="94.50" cy="319.00" r="1.6" fill="#1f77b4"/>
<circle cx="96.50" cy="319.10" r="1.6" fill="#1f77b4"/>
<circle cx="99.60" cy="319.80" r="1.6" fill="#1f77b4"/>
<circle cx="94.00" cy="321.70" r="1.6" fill="#1f77b4"/>
<circle cx="86.30" cy="326.80" r="1.6" fill="#1f77b4"/>
<circle cx="85.90" cy="332.50" r="1.6" fill="#1f77b4"/>
<circle cx="90.20" cy="330.50" r="1.6" fill="#1f77b4"/>
<circle cx="92.60" cy="331.30" r="1.6" fill="#1f77b4"/>
<circle cx="96.50" cy="331.30" r="1.6" fill="#1f77b4"/>
<circle cx="94.50" cy="326.20" r="1.6" fill="#1f77b4"/>
<circle cx="94.90" cy="328.60" r="1.6" fill="#1f77b4"/>
<circle cx="99.60" cy="325.80" r="1.6" fill="#1f77b4"/>
<circle cx="102.80" cy="328.20" r="1.6" fill="#1f77b4"/>
<circle cx="103.60" cy="326.20" r="1.6" fill="#1f77b4"/>
<circle cx="107.50" cy="326.60" r="1.6" fill="#1f77b4"/>
<circle cx="105.10" cy="326.10" r="1.6" fill="#1f77b4"/>
<circle cx="129.30" cy="256.30" r="1.6" fill="#1f77b4"/>
<circle cx="130.60" cy="262.00" r="1.6" fill="#1f77b4"/>
<circle cx="150.00" cy="261.50" r="1.6" fill="#1f77b4"/>
<circle cx="159.80" cy="257.20" r="1.6" fill="#1f77b4"/>
<circle cx="160.20" cy="276.20" r="1.6" fill="#1f77b4"/>
<circle cx="140.20" cy="277.10" r="1.6" fill="#1f77b4"/>
<circle cx="138.50" cy="295.20" r="1.6" fill="#1f77b4"/>
<circle cx="95.80" cy="292.10" r="1.6" fill="#1f77b4"/>
<circle cx="109.80" cy="300.40" r="1.6" fill="#1f77b4"/>
<circle cx="77.30" cy="300.40" r="1.6" fill="#1f77b4"/>
<circle cx="122.40" cy="302.30" r="1.6" fill="#1f77b4"/>
<circle cx="211.00" cy="247.10" r="1.6" fill="#1f77b4"/>
<rect x="185.65" y="214.85" width="2.90" height="2.90" fill="#a52a2a"/>
<rect x="184.35" y="234.75" width="2.90" height="2.90" fill="#a52a2a"/>
<rect x="193.75" y="230.05" width="2.90" height="2.90" fill="#a52a2a"/>
<rect x="196.85" y="232.65" width="2.90" height="2.90" fill="#a52a2a"/>
<rect x="197.95" y="236.85" width="2.90" height="2.90" fill="#a52a2a"/>
<rect x="198.45" y="240.45" width="2.90" height="2.90" fill="#a52a2a"/>
<rect x="196.55" y="242.25" width="2.90" height="2.90" fill="#a52a2a"/>
<rect x="140.45" y="271.75" width="2.90" height="2.90" fill="#a52a2a"/>
<rect x="149.55" y="269.75" width="2.90" height="2.90" fill="#a52a2a"/>
<rect x="150.45" y="265.55" width="2.90" height="2.90" fill="#a52a2a"/>
<rect x="152.45" y="264.95" width="2.90" height="2.90" fill="#a52a2a"/>
<rect x="124.75" y="294.35" width="2.90" height="2.90" fill="#a52a2a"/>
<path d="M149.00 327.60L151.40 330.00L149.00 332.40L146.60 330.00Z" fill="#0808dc"/>
<path d="M186.00 319.60L188.40 322.00L186.00 324.40L183.60 322.00Z" fill="#0808dc"/>
<path d="M221.90 315.10L224.30 317.50L221.90 319.90L219.50 317.50Z" fill="#0808dc"/>
<path d="M45.50 215.30L49.90 219.70L45.50 224.10L41.10 219.70Z" fill="#0808dc"/>
<rect x="42.00" y="230.00" width="7.00" height="7.00" fill="#a52a2a"/>
<text x="62.60" y="223.90" font-size="10" text-anchor="start" fill="#262626" textLength="39.6" lengthAdjust="spacingAndGlyphs" style="stroke-width:0.12px">M. tuber</text>
<text x="62.60" y="237.40" font-size="10" text-anchor="start" fill="#262626" textLength="28.2" lengthAdjust="spacingAndGlyphs" style="stroke-width:0.12px">E. coli</text>
<line x1="290.50" y1="209.30" x2="290.50" y2="357.00" stroke="#888" stroke-width="1"/>
<line x1="290.00" y1="356.50" x2="491.30" y2="356.50" stroke="#999" stroke-width="1"/>
<line x1="288.50" y1="355.50" x2="290.50" y2="355.50" stroke="#666" stroke-width="1"/>
<text x="287.50" y="357.80" font-size="6.6" text-anchor="end" fill="#262626" textLength="10.3" lengthAdjust="spacingAndGlyphs">0.0</text>
<line x1="288.50" y1="326.30" x2="290.50" y2="326.30" stroke="#666" stroke-width="1"/>
<text x="287.50" y="328.60" font-size="6.6" text-anchor="end" fill="#262626" textLength="10.3" lengthAdjust="spacingAndGlyphs">0.1</text>
<line x1="288.50" y1="297.10" x2="290.50" y2="297.10" stroke="#666" stroke-width="1"/>
<text x="287.50" y="299.40" font-size="6.6" text-anchor="end" fill="#262626" textLength="10.3" lengthAdjust="spacingAndGlyphs">0.2</text>
<line x1="288.50" y1="267.90" x2="290.50" y2="267.90" stroke="#666" stroke-width="1"/>
<text x="287.50" y="270.20" font-size="6.6" text-anchor="end" fill="#262626" textLength="10.3" lengthAdjust="spacingAndGlyphs">0.3</text>
<line x1="288.50" y1="238.70" x2="290.50" y2="238.70" stroke="#666" stroke-width="1"/>
<text x="287.50" y="241.00" font-size="6.6" text-anchor="end" fill="#262626" textLength="10.3" lengthAdjust="spacingAndGlyphs">0.4</text>
<line x1="294.50" y1="356.50" x2="294.50" y2="358.50" stroke="#666" stroke-width="1"/>
<text x="294.50" y="364.90" font-size="6.6" text-anchor="middle" fill="#262626" textLength="16" lengthAdjust="spacingAndGlyphs">−2.0</text>
<line x1="338.12" y1="356.50" x2="338.12" y2="358.50" stroke="#666" stroke-width="1"/>
<text x="338.12" y="364.90" font-size="6.6" text-anchor="middle" fill="#262626" textLength="16" lengthAdjust="spacingAndGlyphs">−1.5</text>
<line x1="381.75" y1="356.50" x2="381.75" y2="358.50" stroke="#666" stroke-width="1"/>
<text x="381.75" y="364.90" font-size="6.6" text-anchor="middle" fill="#262626" textLength="16" lengthAdjust="spacingAndGlyphs">−1.0</text>
<line x1="425.38" y1="356.50" x2="425.38" y2="358.50" stroke="#666" stroke-width="1"/>
<text x="425.38" y="364.90" font-size="6.6" text-anchor="middle" fill="#262626" textLength="16" lengthAdjust="spacingAndGlyphs">−0.5</text>
<line x1="469.00" y1="356.50" x2="469.00" y2="358.50" stroke="#666" stroke-width="1"/>
<text x="469.00" y="364.90" font-size="6.6" text-anchor="middle" fill="#262626" textLength="10.4" lengthAdjust="spacingAndGlyphs">0.0</text>
<text transform="translate(273.2,282.7) rotate(-90)" font-size="6.6" text-anchor="middle" fill="#262626" textLength="75.5" lengthAdjust="spacingAndGlyphs">Clustering Coefficient</text>
<text x="365.1" y="377.0" font-size="10" fill="#262626" font-style="italic">ln</text>
<text x="373.90000000000003" y="377.6" font-size="10.5" fill="#262626">(</text>
<text x="393.80" y="373.30" font-size="7" text-anchor="middle" fill="#262626" textLength="33.5" lengthAdjust="spacingAndGlyphs" font-style="italic" style="stroke-width:0.18px">interaction</text>
<line x1="377.10" y1="374.80" x2="410.60" y2="374.80" stroke="#555" stroke-width="0.8"/>
<text x="393.80" y="380.00" font-size="7" text-anchor="middle" fill="#262626" textLength="27.3" lengthAdjust="spacingAndGlyphs" font-style="italic" style="stroke-width:0.18px">genomic</text>
<text x="412.6" y="377.6" font-size="10.5" fill="#262626">)</text>
<circle cx="310.10" cy="320.90" r="1.6" fill="#eca032"/>
<circle cx="299.20" cy="345.80" r="1.6" fill="#eca032"/>
<circle cx="323.30" cy="349.90" r="1.6" fill="#eca032"/>
<circle cx="338.40" cy="348.80" r="1.6" fill="#eca032"/>
<circle cx="390.90" cy="300.60" r="1.6" fill="#eca032"/>
<circle cx="358.50" cy="326.90" r="1.6" fill="#eca032"/>
<circle cx="364.80" cy="321.50" r="1.6" fill="#eca032"/>
<circle cx="368.10" cy="321.00" r="1.6" fill="#eca032"/>
<circle cx="369.50" cy="323.30" r="1.6" fill="#eca032"/>
<circle cx="372.80" cy="319.80" r="1.6" fill="#eca032"/>
<circle cx="366.50" cy="325.40" r="1.6" fill="#eca032"/>
<circle cx="363.20" cy="330.70" r="1.6" fill="#eca032"/>
<circle cx="368.30" cy="330.90" r="1.6" fill="#eca032"/>
<circle cx="371.60" cy="332.20" r="1.6" fill="#eca032"/>
<circle cx="379.90" cy="331.30" r="1.6" fill="#eca032"/>
<circle cx="381.90" cy="331.30" r="1.6" fill="#eca032"/>
<circle cx="384.20" cy="319.10" r="1.6" fill="#eca032"/>
<circle cx="384.60" cy="320.60" r="1.6" fill="#eca032"/>
<circle cx="401.50" cy="256.30" r="1.6" fill="#eca032"/>
<circle cx="402.20" cy="262.10" r="1.6" fill="#eca032"/>
<circle cx="412.50" cy="261.50" r="1.6" fill="#eca032"/>
<circle cx="417.80" cy="257.20" r="1.6" fill="#eca032"/>
<circle cx="417.80" cy="276.20" r="1.6" fill="#eca032"/>
<circle cx="407.30" cy="277.10" r="1.6" fill="#eca032"/>
<circle cx="412.30" cy="291.90" r="1.6" fill="#eca032"/>
<circle cx="406.40" cy="295.20" r="1.6" fill="#eca032"/>
<circle cx="402.00" cy="299.80" r="1.6" fill="#eca032"/>
<circle cx="426.30" cy="302.20" r="1.6" fill="#eca032"/>
<circle cx="410.10" cy="315.10" r="1.6" fill="#eca032"/>
<circle cx="419.40" cy="321.70" r="1.6" fill="#eca032"/>
<circle cx="421.10" cy="326.10" r="1.6" fill="#eca032"/>
<circle cx="423.30" cy="326.80" r="1.6" fill="#eca032"/>
<circle cx="425.50" cy="327.90" r="1.6" fill="#eca032"/>
<circle cx="424.80" cy="325.70" r="1.6" fill="#eca032"/>
<circle cx="431.10" cy="326.40" r="1.6" fill="#eca032"/>
<circle cx="432.90" cy="337.40" r="1.6" fill="#eca032"/>
<circle cx="445.30" cy="337.40" r="1.6" fill="#eca032"/>
<circle cx="432.10" cy="344.70" r="1.6" fill="#eca032"/>
<circle cx="434.30" cy="345.70" r="1.6" fill="#eca032"/>
<circle cx="436.50" cy="346.60" r="1.6" fill="#eca032"/>
<circle cx="443.10" cy="346.60" r="1.6" fill="#eca032"/>
<circle cx="417.00" cy="348.10" r="1.6" fill="#eca032"/>
<circle cx="481.80" cy="246.60" r="1.6" fill="#eca032"/>
<rect x="429.65" y="214.95" width="2.90" height="2.90" fill="#a52a2a"/>
<rect x="428.95" y="234.75" width="2.90" height="2.90" fill="#a52a2a"/>
<rect x="433.65" y="229.75" width="2.90" height="2.90" fill="#a52a2a"/>
<rect x="435.95" y="232.35" width="2.90" height="2.90" fill="#a52a2a"/>
<rect x="436.55" y="236.95" width="2.90" height="2.90" fill="#a52a2a"/>
<rect x="436.25" y="239.55" width="2.90" height="2.90" fill="#a52a2a"/>
<rect x="435.55" y="242.25" width="2.90" height="2.90" fill="#a52a2a"/>
<rect x="405.15" y="271.75" width="2.90" height="2.90" fill="#a52a2a"/>
<rect x="410.45" y="269.75" width="2.90" height="2.90" fill="#a52a2a"/>
<rect x="410.85" y="265.55" width="2.90" height="2.90" fill="#a52a2a"/>
<rect x="411.85" y="264.95" width="2.90" height="2.90" fill="#a52a2a"/>
<rect x="396.85" y="294.45" width="2.90" height="2.90" fill="#a52a2a"/>
<path d="M438.40 319.60L440.80 322.00L438.40 324.40L436.00 322.00Z" fill="#0808dc"/>
<path d="M418.50 327.70L420.90 330.10L418.50 332.50L416.10 330.10Z" fill="#0808dc"/>
<path d="M457.50 315.20L459.90 317.60L457.50 320.00L455.10 317.60Z" fill="#0808dc"/>
<line x1="557.50" y1="209.30" x2="557.50" y2="357.00" stroke="#888" stroke-width="1"/>
<line x1="557.00" y1="356.50" x2="760.00" y2="356.50" stroke="#999" stroke-width="1"/>
<line x1="555.50" y1="355.50" x2="557.50" y2="355.50" stroke="#666" stroke-width="1"/>
<text x="554.50" y="357.80" font-size="6.6" text-anchor="end" fill="#262626" textLength="10.3" lengthAdjust="spacingAndGlyphs">0.0</text>
<line x1="555.50" y1="326.30" x2="557.50" y2="326.30" stroke="#666" stroke-width="1"/>
<text x="554.50" y="328.60" font-size="6.6" text-anchor="end" fill="#262626" textLength="10.3" lengthAdjust="spacingAndGlyphs">0.1</text>
<line x1="555.50" y1="297.10" x2="557.50" y2="297.10" stroke="#666" stroke-width="1"/>
<text x="554.50" y="299.40" font-size="6.6" text-anchor="end" fill="#262626" textLength="10.3" lengthAdjust="spacingAndGlyphs">0.2</text>
<line x1="555.50" y1="267.90" x2="557.50" y2="267.90" stroke="#666" stroke-width="1"/>
<text x="554.50" y="270.20" font-size="6.6" text-anchor="end" fill="#262626" textLength="10.3" lengthAdjust="spacingAndGlyphs">0.3</text>
<line x1="555.50" y1="238.70" x2="557.50" y2="238.70" stroke="#666" stroke-width="1"/>
<text x="554.50" y="241.00" font-size="6.6" text-anchor="end" fill="#262626" textLength="10.3" lengthAdjust="spacingAndGlyphs">0.4</text>
<line x1="568.60" y1="356.50" x2="568.60" y2="358.50" stroke="#666" stroke-width="1"/>
<text x="568.60" y="364.90" font-size="6.6" text-anchor="middle" fill="#262626" textLength="16" lengthAdjust="spacingAndGlyphs">−1.0</text>
<line x1="597.44" y1="356.50" x2="597.44" y2="358.50" stroke="#666" stroke-width="1"/>
<text x="597.44" y="364.90" font-size="6.6" text-anchor="middle" fill="#262626" textLength="16" lengthAdjust="spacingAndGlyphs">−0.8</text>
<line x1="626.28" y1="356.50" x2="626.28" y2="358.50" stroke="#666" stroke-width="1"/>
<text x="626.28" y="364.90" font-size="6.6" text-anchor="middle" fill="#262626" textLength="16" lengthAdjust="spacingAndGlyphs">−0.6</text>
<line x1="655.12" y1="356.50" x2="655.12" y2="358.50" stroke="#666" stroke-width="1"/>
<text x="655.12" y="364.90" font-size="6.6" text-anchor="middle" fill="#262626" textLength="16" lengthAdjust="spacingAndGlyphs">−0.4</text>
<line x1="683.96" y1="356.50" x2="683.96" y2="358.50" stroke="#666" stroke-width="1"/>
<text x="683.96" y="364.90" font-size="6.6" text-anchor="middle" fill="#262626" textLength="16" lengthAdjust="spacingAndGlyphs">−0.2</text>
<line x1="712.80" y1="356.50" x2="712.80" y2="358.50" stroke="#666" stroke-width="1"/>
<text x="712.80" y="364.90" font-size="6.6" text-anchor="middle" fill="#262626" textLength="10.4" lengthAdjust="spacingAndGlyphs">0.0</text>
<line x1="741.64" y1="356.50" x2="741.64" y2="358.50" stroke="#666" stroke-width="1"/>
<text x="741.64" y="364.90" font-size="6.6" text-anchor="middle" fill="#262626" textLength="10.4" lengthAdjust="spacingAndGlyphs">0.2</text>
<text transform="translate(541.4,282.7) rotate(-90)" font-size="6.6" text-anchor="middle" fill="#262626" textLength="75.5" lengthAdjust="spacingAndGlyphs">Clustering Coefficient</text>
<text x="632.7" y="377.0" font-size="10" fill="#262626" font-style="italic">ln</text>
<text x="641.5" y="377.6" font-size="10.5" fill="#262626">(</text>
<text x="661.40" y="373.30" font-size="7" text-anchor="middle" fill="#262626" textLength="33.5" lengthAdjust="spacingAndGlyphs" font-style="italic" style="stroke-width:0.18px">interaction</text>
<line x1="644.70" y1="374.80" x2="678.20" y2="374.80" stroke="#555" stroke-width="0.8"/>
<text x="661.40" y="380.00" font-size="7" text-anchor="middle" fill="#262626" textLength="27.3" lengthAdjust="spacingAndGlyphs" font-style="italic" style="stroke-width:0.18px">genomic</text>
<text x="680.2" y="377.6" font-size="10.5" fill="#262626">)</text>
<circle cx="566.60" cy="345.70" r="1.6" fill="#0a720a"/>
<circle cx="576.50" cy="349.80" r="1.6" fill="#0a720a"/>
<circle cx="589.30" cy="348.70" r="1.6" fill="#0a720a"/>
<circle cx="606.50" cy="320.90" r="1.6" fill="#0a720a"/>
<circle cx="644.20" cy="292.10" r="1.6" fill="#0a720a"/>
<circle cx="627.50" cy="300.20" r="1.6" fill="#0a720a"/>
<circle cx="647.60" cy="300.20" r="1.6" fill="#0a720a"/>
<circle cx="640.90" cy="314.70" r="1.6" fill="#0a720a"/>
<circle cx="624.20" cy="321.20" r="1.6" fill="#0a720a"/>
<circle cx="625.10" cy="323.50" r="1.6" fill="#0a720a"/>
<circle cx="629.20" cy="320.90" r="1.6" fill="#0a720a"/>
<circle cx="634.40" cy="319.40" r="1.6" fill="#0a720a"/>
<circle cx="636.20" cy="320.30" r="1.6" fill="#0a720a"/>
<circle cx="644.60" cy="321.60" r="1.6" fill="#0a720a"/>
<circle cx="620.10" cy="326.80" r="1.6" fill="#0a720a"/>
<circle cx="620.10" cy="330.20" r="1.6" fill="#0a720a"/>
<circle cx="624.20" cy="332.40" r="1.6" fill="#0a720a"/>
<circle cx="626.00" cy="330.90" r="1.6" fill="#0a720a"/>
<circle cx="632.50" cy="330.90" r="1.6" fill="#0a720a"/>
<circle cx="634.90" cy="331.10" r="1.6" fill="#0a720a"/>
<circle cx="635.70" cy="325.50" r="1.6" fill="#0a720a"/>
<circle cx="647.40" cy="325.90" r="1.6" fill="#0a720a"/>
<circle cx="647.40" cy="328.70" r="1.6" fill="#0a720a"/>
<circle cx="650.20" cy="326.30" r="1.6" fill="#0a720a"/>
<circle cx="653.90" cy="327.40" r="1.6" fill="#0a720a"/>
<circle cx="657.60" cy="326.80" r="1.6" fill="#0a720a"/>
<circle cx="630.70" cy="337.60" r="1.6" fill="#0a720a"/>
<circle cx="644.20" cy="337.60" r="1.6" fill="#0a720a"/>
<circle cx="621.40" cy="349.10" r="1.6" fill="#0a720a"/>
<circle cx="624.20" cy="348.20" r="1.6" fill="#0a720a"/>
<circle cx="628.80" cy="345.40" r="1.6" fill="#0a720a"/>
<circle cx="631.20" cy="345.40" r="1.6" fill="#0a720a"/>
<circle cx="638.70" cy="347.30" r="1.6" fill="#0a720a"/>
<circle cx="641.80" cy="346.00" r="1.6" fill="#0a720a"/>
<circle cx="664.90" cy="256.50" r="1.6" fill="#0a720a"/>
<circle cx="666.30" cy="262.00" r="1.6" fill="#0a720a"/>
<circle cx="683.20" cy="261.60" r="1.6" fill="#0a720a"/>
<circle cx="692.00" cy="257.40" r="1.6" fill="#0a720a"/>
<circle cx="692.30" cy="276.10" r="1.6" fill="#0a720a"/>
<circle cx="674.40" cy="277.20" r="1.6" fill="#0a720a"/>
<circle cx="673.10" cy="294.90" r="1.6" fill="#0a720a"/>
<circle cx="668.00" cy="302.50" r="1.6" fill="#0a720a"/>
<circle cx="749.50" cy="246.80" r="1.6" fill="#0a720a"/>
<rect x="714.75" y="214.75" width="2.90" height="2.90" fill="#a52a2a"/>
<rect x="713.05" y="234.85" width="2.90" height="2.90" fill="#a52a2a"/>
<rect x="721.55" y="230.05" width="2.90" height="2.90" fill="#a52a2a"/>
<rect x="724.25" y="232.45" width="2.90" height="2.90" fill="#a52a2a"/>
<rect x="725.25" y="236.85" width="2.90" height="2.90" fill="#a52a2a"/>
<rect x="725.25" y="240.25" width="2.90" height="2.90" fill="#a52a2a"/>
<rect x="723.95" y="242.65" width="2.90" height="2.90" fill="#a52a2a"/>
<rect x="674.45" y="271.55" width="2.90" height="2.90" fill="#a52a2a"/>
<rect x="682.25" y="269.65" width="2.90" height="2.90" fill="#a52a2a"/>
<rect x="683.05" y="265.65" width="2.90" height="2.90" fill="#a52a2a"/>
<rect x="684.85" y="264.75" width="2.90" height="2.90" fill="#a52a2a"/>
<rect x="660.35" y="294.45" width="2.90" height="2.90" fill="#a52a2a"/>
<path d="M684.70 327.40L687.10 329.80L684.70 332.20L682.30 329.80Z" fill="#0808dc"/>
<path d="M717.80 319.40L720.20 321.80L717.80 324.20L715.40 321.80Z" fill="#0808dc"/>
<path d="M749.40 315.00L751.80 317.40L749.40 319.80L747.00 317.40Z" fill="#0808dc"/>
</svg></div></body></html>
